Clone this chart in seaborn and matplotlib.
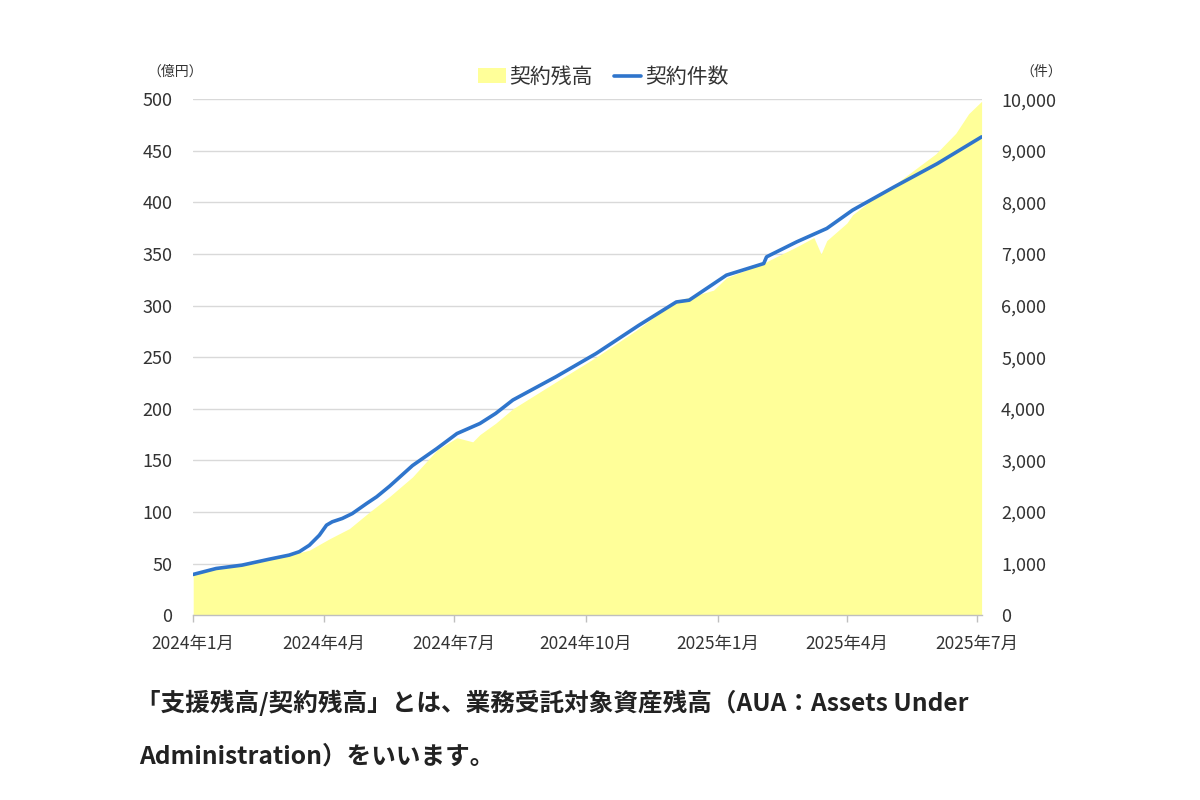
import pandas as pd
import matplotlib
matplotlib.use('Agg')
import matplotlib.pyplot as plt
from matplotlib.patches import Patch
from matplotlib.lines import Line2D
import seaborn as sns

# --Data--

# -Contract count (件), right axis
count_dates = ['2024-01-01', '2024-01-17', '2024-02-04', '2024-02-23', '2024-03-08',
               '2024-03-15', '2024-03-22', '2024-03-29', '2024-04-03', '2024-04-07',
               '2024-04-14', '2024-04-21', '2024-05-01', '2024-05-08', '2024-05-17',
               '2024-06-02', '2024-06-19', '2024-07-03', '2024-07-19', '2024-07-30',
               '2024-08-11', '2024-09-10', '2024-10-08', '2024-11-07', '2024-12-03',
               '2024-12-12', '2025-01-07', '2025-02-02', '2025-02-04', '2025-02-25',
               '2025-03-18', '2025-04-05', '2025-05-04', '2025-06-03', '2025-07-04']
contract_counts = [790, 905, 970, 1085, 1165,
                   1230, 1355, 1550, 1745, 1810,
                   1875, 1970, 2165, 2295, 2500,
                   2900, 3230, 3520, 3715, 3910,
                   4170, 4620, 5070, 5620, 6070,
                   6105, 6590, 6815, 6945, 7235,
                   7495, 7850, 8300, 8750, 9270]

# -Contract balance (億円), left axis
aua_dates = ['2024-01-01', '2024-01-17', '2024-02-04', '2024-02-23', '2024-03-08',
             '2024-03-22', '2024-04-05', '2024-04-19', '2024-05-03', '2024-05-17',
             '2024-06-02', '2024-06-19', '2024-07-03', '2024-07-14', '2024-07-19',
             '2024-07-30', '2024-08-11', '2024-09-10', '2024-10-08', '2024-11-05',
             '2024-12-03', '2024-12-12', '2024-12-29', '2025-01-07', '2025-02-02',
             '2025-02-06', '2025-02-25', '2025-03-09', '2025-03-14', '2025-03-18',
             '2025-04-01', '2025-04-05', '2025-04-18', '2025-05-07', '2025-06-02',
             '2025-06-16', '2025-06-25', '2025-07-04']
aua_values = [40, 45, 48, 54, 58,
              63, 74, 84, 100, 115,
              134, 160, 172, 168, 175,
              186, 200, 226, 250, 276,
              305, 308, 315, 327, 341,
              344, 357, 366, 350, 363,
              380, 388, 402, 420, 447,
              467, 486, 498]

xtick_dates = ['2024-01-01', '2024-04-01', '2024-07-01', '2024-10-01',
               '2025-01-01', '2025-04-01', '2025-07-01']
xtick_labels = ['2024年1月', '2024年4月', '2024年7月', '2024年10月',
                '2025年1月', '2025年4月', '2025年7月']
left_ticks = [0, 50, 100, 150, 200, 250, 300, 350, 400, 450, 500]
right_ticks = [0, 1000, 2000, 3000, 4000, 5000, 6000, 7000, 8000, 9000, 10000]
right_tick_labels = ['0', '1,000', '2,000', '3,000', '4,000', '5,000',
                     '6,000', '7,000', '8,000', '9,000', '10,000']

caption_lines = ['「支援残高/契約残高」とは、業務受託対象資産残高（AUA：Assets Under',
                 'Administration）をいいます。']

# --Style--
sns.set_theme(style='white')
plt.rcParams['font.family'] = ['Noto Sans CJK JP', 'DejaVu Sans']

yellow = '#FFFF99'
blue = '#2F75CC'
grid_gray = '#D9D9D9'
text_gray = '#333333'

aua = pd.DataFrame({'date': pd.to_datetime(aua_dates), 'value': aua_values})
cnt = pd.DataFrame({'date': pd.to_datetime(count_dates), 'count': contract_counts})

fig = plt.figure(figsize=(12, 8), dpi=100)
ax = fig.add_axes([0.161, 0.231, 0.657, 0.645])
ax2 = ax.twinx()

# -Area for balance, line for count
ax.fill_between(aua['date'], aua['value'], color=yellow, lw=0, zorder=1)
sns.lineplot(data=cnt, x='date', y='count', ax=ax2, color=blue, lw=2.6)

ax.set_xlim(pd.Timestamp('2024-01-01'), pd.Timestamp('2025-07-04'))
ax.set_ylim(0, 500)
ax2.set_ylim(0, 10000)

ax.set_axisbelow(True)
ax.yaxis.grid(True, color=grid_gray, lw=1)
ax.xaxis.grid(False)

ax.set_yticks(left_ticks)
ax.set_yticklabels([str(v) for v in left_ticks])
ax2.set_yticks(right_ticks)
ax2.set_yticklabels(right_tick_labels)
ax.set_xticks(pd.to_datetime(xtick_dates))
ax.set_xticklabels(xtick_labels)

ax.tick_params(axis='y', length=0, pad=15, labelsize=13, labelcolor=text_gray)
ax2.tick_params(axis='y', length=0, pad=14, labelsize=13, labelcolor=text_gray)
ax.tick_params(axis='x', direction='out', length=5, width=1, color='#BFBFBF',
               pad=9, labelsize=12.5, labelcolor=text_gray, bottom=True)

for a in (ax, ax2):
    for s in a.spines.values():
        s.set_visible(False)
    a.set_xlabel('')
    a.set_ylabel('')
ax.spines['bottom'].set_visible(True)
ax.spines['bottom'].set_color('#BFBFBF')
ax.spines['bottom'].set_linewidth(1)

# -Unit labels
fig.text(175 / 1200, 1 - 72 / 800, '（億円）', ha='center', va='center',
         fontsize=10, color=text_gray)
fig.text(1041 / 1200, 1 - 72 / 800, '（件）', ha='center', va='center',
         fontsize=10, color=text_gray)

# -Legend
handles = [Patch(facecolor=yellow, edgecolor='none'),
           Line2D([0], [0], color=blue, lw=2.6)]
fig.legend(handles, ['契約残高', '契約件数'], loc='center',
           bbox_to_anchor=(0.503, 0.904), ncol=2, frameon=False, fontsize=15,
           handlelength=1.3, handletextpad=0.2, columnspacing=1.0,
           labelcolor=text_gray)

# -Caption
fig.text(0.113, 1 - 703 / 800, caption_lines[0], ha='left', va='center',
         fontsize=17.7, fontweight='bold', color='#222222')
fig.text(0.116, 1 - 757 / 800, caption_lines[1], ha='left', va='center',
         fontsize=17.7, fontweight='bold', color='#222222')

fig.savefig('out.png', dpi=100, facecolor='white')
